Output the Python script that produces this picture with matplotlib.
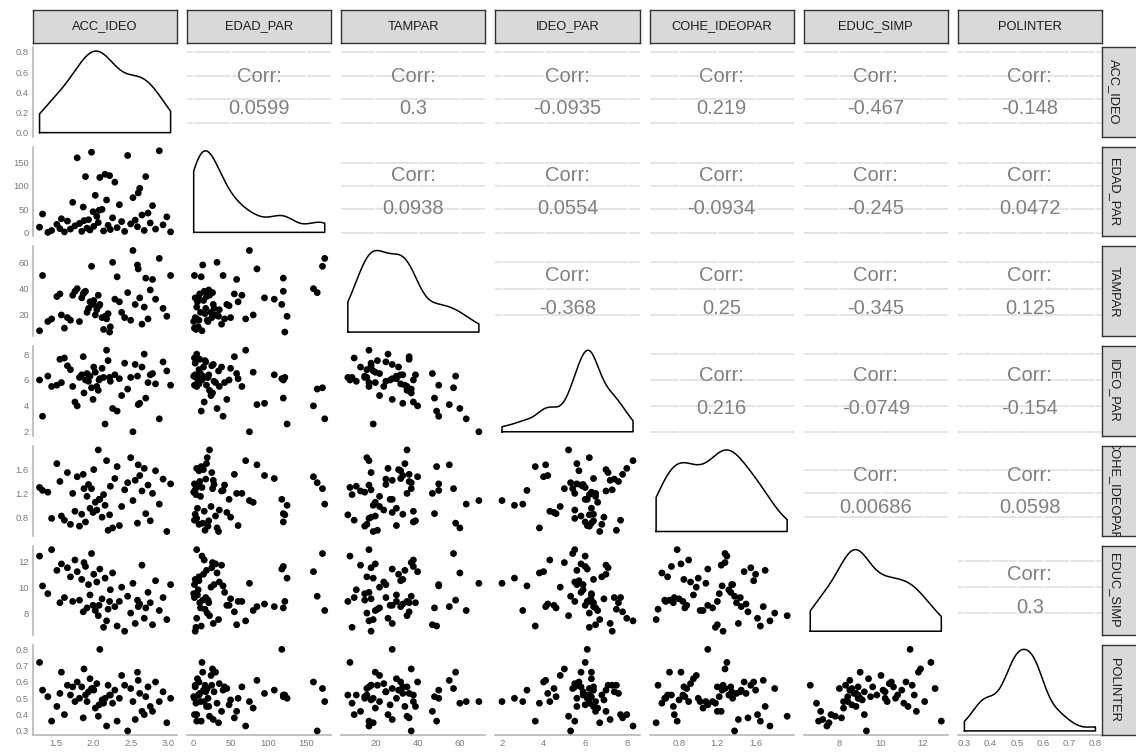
import numpy as np
import matplotlib
matplotlib.use("Agg")
import matplotlib.pyplot as plt

plt.rcParams['font.family'] = ['Liberation Sans', 'DejaVu Sans']

variables = ["ACC_IDEO", "EDAD_PAR", "TAMPAR", "IDEO_PAR",
             "COHE_IDEOPAR", "EDUC_SIMP", "POLINTER"]

ACC_IDEO = [1.29, 1.33, 1.45, 1.52, 1.58, 1.62, 1.66, 1.70, 1.73, 1.76,
            1.79, 1.82, 1.85, 1.87, 1.90, 1.92, 1.94, 1.96, 1.98, 2.00,
            2.01, 2.03, 1.40, 2.05, 2.07, 2.09, 1.56, 2.12, 2.14, 2.16,
            2.18, 2.20, 2.23, 2.26, 2.29, 2.32, 2.35, 2.38, 2.42, 2.46,
            2.50, 2.53, 2.56, 2.59, 2.62, 2.65, 2.68, 2.70, 2.73, 2.76,
            2.79, 2.83, 2.88, 2.93, 2.98, 3.03, 2.08, 2.22, 1.88, 2.60]
EDAD_PAR = [12, 40, 5, 18, 30, 2, 25, 8, 65, 15,
            160, 20, 3, 55, 120, 10, 28, 6, 172, 45,
            14, 80, 1, 35, 22, 118, 9, 50, 4, 125,
            70, 16, 7, 32, 108, 11, 60, 24, 3, 165,
            19, 75, 27, 13, 95, 38, 5, 120, 42, 21,
            58, 8, 175, 17, 34, 2, 48, 122, 26, 85]
TAMPAR = [8, 50, 17, 34, 20, 10, 18, 16, 35, 38,
          40, 15, 33, 36, 38, 22, 25, 30, 57, 28,
          31, 20, 15, 24, 35, 28, 36, 18, 9, 19,
          17, 21, 11, 60, 32, 49, 30, 22, 18, 37,
          16, 69, 28, 58, 33, 13, 26, 48, 17, 39,
          47, 32, 63, 25, 19, 50, 27, 7, 37, 55]
IDEO_PAR = [6.0, 3.2, 5.5, 5.6, 5.8, 7.7, 7.1, 6.8, 5.5, 4.3,
            4.0, 6.2, 6.4, 7.8, 6.0, 6.5, 5.9, 6.3, 5.4, 4.5,
            7.0, 6.6, 6.3, 5.5, 5.2, 6.1, 7.6, 6.9, 6.2, 2.6,
            8.3, 7.5, 5.9, 3.8, 6.4, 3.6, 6.1, 4.8, 7.3, 5.3,
            6.2, 2.0, 7.2, 6.3, 4.2, 7.0, 8.0, 4.6, 5.8, 6.4,
            6.5, 5.7, 3.0, 7.4, 6.7, 5.6, 6.0, 6.2, 5.0, 4.1]
COHE_IDEOPAR = [1.30, 1.25, 0.78, 1.70, 0.82, 0.75, 1.55, 0.68, 1.20, 0.90,
                1.48, 0.65, 0.85, 1.52, 0.72, 1.15, 1.35, 0.95, 1.28, 0.88,
                1.60, 1.05, 1.22, 0.92, 1.93, 1.10, 1.40, 0.80, 1.18, 1.00,
                1.75, 0.58, 1.32, 0.62, 1.45, 1.65, 0.66, 0.98, 1.26, 1.38,
                1.80, 1.08, 1.42, 0.70, 1.50, 1.24, 1.62, 0.86, 1.34, 0.74,
                1.20, 1.58, 1.02, 1.44, 0.56, 1.36, 1.10, 0.84, 1.28, 1.68]
EDUC_SIMP = [12.4, 10.1, 12.9, 11.3, 11.8, 9.2, 11.5, 10.8, 8.9, 12.1,
             11.2, 9.0, 10.6, 8.1, 11.6, 8.4, 10.2, 9.4, 12.6, 8.6,
             11.0, 8.2, 9.5, 10.4, 7.8, 11.4, 8.8, 9.1, 6.9, 10.7,
             7.4, 8.3, 9.8, 11.1, 8.5, 7.0, 8.9, 10.0, 6.6, 9.3,
             8.0, 10.3, 7.2, 9.0, 8.7, 11.7, 7.6, 8.4, 9.6, 8.8,
             7.1, 10.5, 8.2, 9.2, 7.5, 10.2, 8.6, 8.9, 11.9, 8.5]
POLINTER = [0.72, 0.55, 0.36, 0.45, 0.66, 0.40, 0.58, 0.52, 0.57, 0.48,
            0.60, 0.50, 0.57, 0.38, 0.52, 0.48, 0.54, 0.62, 0.56, 0.56,
            0.55, 0.44, 0.51, 0.59, 0.39, 0.80, 0.53, 0.49, 0.47, 0.50,
            0.33, 0.58, 0.52, 0.47, 0.55, 0.36, 0.50, 0.64, 0.58, 0.30,
            0.56, 0.48, 0.37, 0.66, 0.53, 0.42, 0.40, 0.51, 0.57, 0.45,
            0.42, 0.60, 0.48, 0.54, 0.35, 0.50, 0.46, 0.52, 0.68, 0.61]

# correlation labels of the upper triangle, row by row
corr_labels = [
    ["0.0599", "0.3", "-0.0935", "0.219", "-0.467", "-0.148"],
    ["0.0938", "0.0554", "-0.0934", "-0.245", "0.0472"],
    ["-0.368", "0.25", "-0.345", "0.125"],
    ["0.216", "-0.0749", "-0.154"],
    ["0.00686", "0.0598"],
    ["0.3"],
]

tick_values = [
    [1.5, 2.0, 2.5, 3.0],
    [0, 50, 100, 150],
    [20, 40, 60],
    [2, 4, 6, 8],
    [0.8, 1.2, 1.6],
    [8, 10, 12],
    [0.3, 0.4, 0.5, 0.6, 0.7, 0.8],
]
tick_labels = [
    ["1.5", "2.0", "2.5", "3.0"],
    ["0", "50", "100", "150"],
    ["20", "40", "60"],
    ["2", "4", "6", "8"],
    ["0.8", "1.2", "1.6"],
    ["8", "10", "12"],
    ["0.3", "0.4", "0.5", "0.6", "0.7", "0.8"],
]
density_ticks = [0.0, 0.2, 0.4, 0.6, 0.8]
density_tick_labels = ["0.0", "0.2", "0.4", "0.6", "0.8"]

data = [np.array(v, dtype=float) for v in
        [ACC_IDEO, EDAD_PAR, TAMPAR, IDEO_PAR, COHE_IDEOPAR, EDUC_SIMP, POLINTER]]

W, H = 1136, 754
fig = plt.figure(figsize=(W / 100, H / 100), dpi=100)
fig.patch.set_facecolor("white")


def add_ax(x0, y0, w, h):
    return fig.add_axes([x0 / W, 1 - (y0 + h) / H, w / W, h / H])


def kde(x):
    n = len(x)
    sd = np.std(x, ddof=1)
    iqr = np.subtract(*np.percentile(x, [75, 25]))
    bw = 0.9 * min(sd, iqr / 1.34) * n ** (-0.2)
    grid = np.linspace(x.min(), x.max(), 256)
    dens = np.exp(-0.5 * ((grid[:, None] - x[None, :]) / bw) ** 2).sum(axis=1)
    dens /= (n * bw * np.sqrt(2 * np.pi))
    return grid, dens


def lims(x):
    r = x.max() - x.min()
    return x.min() - 0.05 * r, x.max() + 0.05 * r


def in_range(ticks, labels, lo, hi):
    keep = [(t, l) for t, l in zip(ticks, labels) if lo <= t <= hi]
    return [k[0] for k in keep], [k[1] for k in keep]


nv = len(variables)
left, right, top, bottom = 33, 1102, 47, 735
gap = 10
pw = (right - left - gap * (nv - 1)) / nv
ph = (bottom - top - gap * (nv - 1)) / nv

grid_col = "#dedede"
text_grey = "#808080"
tick_grey = "#7a7a7a"
axis_grey = "#b0b0b0"

for i in range(nv):
    for j in range(nv):
        x0 = left + j * (pw + gap)
        y0 = top + i * (ph + gap)
        ax = add_ax(x0, y0, pw, ph)
        ax.set_facecolor("white")
        for s in ax.spines.values():
            s.set_visible(False)
        xlo, xhi = lims(data[j])
        xt, xl = in_range(tick_values[j], tick_labels[j], xlo, xhi)
        ax.set_xticks(xt)
        ax.set_xticklabels(xl)
        if i == j:
            g, d = kde(data[j])
            px = np.concatenate([[g[0]], g, [g[-1]], [g[0]]])
            py = np.concatenate([[0], d, [0], [0]])
            ax.plot(px, py, color="black", lw=1.1, solid_joinstyle="round")
            ylo, yhi = -0.05 * d.max(), 1.05 * d.max()
            if i == 0:
                yt, yl = in_range(density_ticks, density_tick_labels, ylo, yhi)
                ax.set_yticks(yt)
                ax.set_yticklabels(yl)
            else:
                ax.set_yticks([])
        else:
            ylo, yhi = lims(data[i])
            yt, yl = in_range(tick_values[i], tick_labels[i], ylo, yhi)
            ax.set_yticks(yt)
            ax.set_yticklabels(yl)
            if i > j:
                ax.scatter(data[j], data[i], s=24, color="black",
                           edgecolors="none", zorder=3)
            else:
                for t in yt:
                    ax.axhline(t, color=grid_col, lw=1.1, zorder=0)
                for t in xt:
                    ax.axvline(t, color="white", lw=0.9, zorder=0.5)
                lab = corr_labels[i][j - i - 1]
                ax.text(0.5, 0.675, "Corr:", transform=ax.transAxes,
                        ha="center", va="center", fontsize=14.5, color=text_grey)
                ax.text(0.5, 0.31, lab, transform=ax.transAxes,
                        ha="center", va="center", fontsize=14.5, color=text_grey)
        ax.set_xlim(xlo, xhi)
        ax.set_ylim(ylo, yhi)
        ax.tick_params(length=0, pad=3, labelsize=6.8, colors=tick_grey)
        if j == 0:
            ax.spines["left"].set_visible(True)
            ax.spines["left"].set_color(axis_grey)
            ax.spines["left"].set_linewidth(1.1)
        else:
            ax.tick_params(axis="y", labelleft=False)
        if i == nv - 1:
            ax.spines["bottom"].set_visible(True)
            ax.spines["bottom"].set_color(axis_grey)
            ax.spines["bottom"].set_linewidth(1.1)
        else:
            ax.tick_params(axis="x", labelbottom=False)

# strips
for j, name in enumerate(variables):
    x0 = left + j * (pw + gap)
    sax = add_ax(x0, 10, pw, 33)
    sax.set_xlim(0, 1)
    sax.set_ylim(0, 1)
    sax.set_facecolor("#d9d9d9")
    for s in sax.spines.values():
        s.set_color("#333333")
        s.set_linewidth(1.0)
    sax.set_xticks([])
    sax.set_yticks([])
    sax.text(0.5, 0.5, name, ha="center", va="center", fontsize=9.3,
             color="#1a1a1a", clip_on=True)

for i, name in enumerate(variables):
    y0 = top + i * (ph + gap)
    sax = add_ax(right, y0, 40, ph)
    sax.set_xlim(0, 1)
    sax.set_ylim(0, 1)
    sax.set_facecolor("#d9d9d9")
    for s in sax.spines.values():
        s.set_color("#333333")
        s.set_linewidth(1.0)
    sax.set_xticks([])
    sax.set_yticks([])
    sax.text(0.30, 0.5, name, ha="center", va="center", fontsize=9.3,
             color="#1a1a1a", rotation=-90, clip_on=True)

fig.savefig("out.png", dpi=100, facecolor="white")
